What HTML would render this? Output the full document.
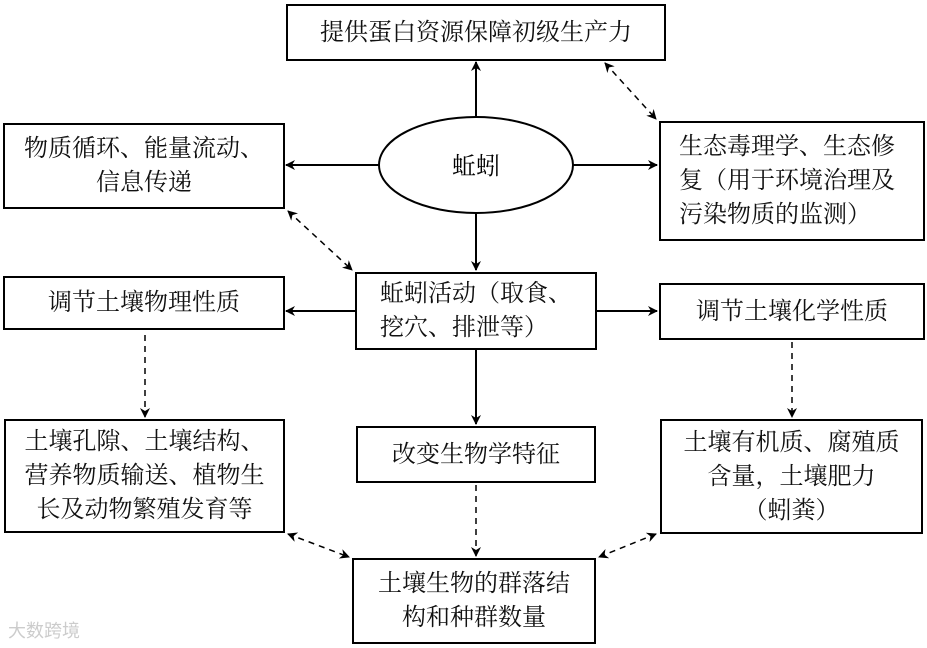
<!DOCTYPE html>
<html><head><meta charset="utf-8"><style>
body{margin:0;background:#fff;width:927px;height:648px;overflow:hidden;position:relative;font-family:"Liberation Serif","Noto Serif CJK SC",serif;}
.b{position:absolute;border:2px solid #000;box-sizing:border-box;display:flex;align-items:center;justify-content:center;text-align:center;font-size:24px;line-height:34px;color:#111;background:#fff;white-space:nowrap}
svg{position:absolute;left:0;top:0}
</style></head><body>
<svg width="927" height="648">
<defs><marker id="a" markerWidth="10" markerHeight="10" refX="9" refY="5" orient="auto" markerUnits="userSpaceOnUse"><path d="M0,0L10,5L0,10L3,5z" fill="#000"/></marker>
<marker id="s" markerWidth="10" markerHeight="10" refX="1" refY="5" orient="auto" markerUnits="userSpaceOnUse"><path d="M10,0L0,5L10,10L7,5z" fill="#000"/></marker></defs>
<g stroke="#000" stroke-width="2" fill="none">
<ellipse cx="476" cy="165" rx="97" ry="48"/>
<line x1="476" y1="117" x2="476" y2="62" marker-end="url(#a)"/>
<line x1="379" y1="165" x2="286" y2="165" marker-end="url(#a)"/>
<line x1="573" y1="165" x2="657" y2="165" marker-end="url(#a)"/>
<line x1="476" y1="213" x2="476" y2="270" marker-end="url(#a)"/>
<line x1="355" y1="311" x2="286" y2="311" marker-end="url(#a)"/>
<line x1="597" y1="311" x2="657" y2="311" marker-end="url(#a)"/>
<line x1="476" y1="350" x2="476" y2="424" marker-end="url(#a)"/>
<g stroke-dasharray="6,5" stroke-width="1.5">
<line x1="605" y1="63" x2="656" y2="119" marker-start="url(#s)" marker-end="url(#a)"/>
<line x1="288" y1="211" x2="352" y2="270" marker-start="url(#s)" marker-end="url(#a)"/>
<line x1="145" y1="335" x2="145" y2="417" marker-end="url(#a)"/>
<line x1="792" y1="342" x2="792" y2="417" marker-end="url(#a)"/>
<line x1="476" y1="485" x2="476" y2="556" marker-end="url(#a)"/>
<line x1="288" y1="534" x2="349" y2="557" marker-start="url(#s)" marker-end="url(#a)"/>
<line x1="656" y1="534" x2="599" y2="557" marker-start="url(#s)" marker-end="url(#a)"/>
</g></g>
<text x="476" y="174" text-anchor="middle" font-size="24" font-family="Liberation Serif,Noto Serif CJK SC,serif">蚯蚓</text>
</svg>
<div class="b" style="left:286px;top:4px;width:380px;height:57px">提供蛋白资源保障初级生产力</div>
<div class="b" style="left:3px;top:123px;width:282px;height:86px">物质循环、能量流动、<br>信息传递</div>
<div class="b" style="left:659px;top:121px;width:266px;height:120px;text-align:left;justify-content:flex-start;padding-left:18px">生态毒理学、生态修<br>复（用于环境治理及<br>污染物质的监测）</div>
<div class="b" style="left:355px;top:272px;width:242px;height:78px;text-align:left;justify-content:flex-start;padding-left:23px">蚯蚓活动（取食、<br>挖穴、排泄等）</div>
<div class="b" style="left:3px;top:276px;width:282px;height:54px">调节土壤物理性质</div>
<div class="b" style="left:659px;top:283px;width:266px;height:57px">调节土壤化学性质</div>
<div class="b" style="left:4px;top:419px;width:281px;height:114px">土壤孔隙、土壤结构、<br>营养物质输送、植物生<br>长及动物繁殖发育等</div>
<div class="b" style="left:356px;top:426px;width:240px;height:57px">改变生物学特征</div>
<div class="b" style="left:660px;top:419px;width:263px;height:115px">土壤有机质、腐殖质<br>含量，土壤肥力<br>（蚓粪）</div>
<div class="b" style="left:352px;top:558px;width:244px;height:86px">土壤生物的群落结<br>构和种群数量</div>
<div style="position:absolute;left:8px;top:617px;font-size:18px;color:#ccc;font-family:'Noto Sans CJK SC',sans-serif">大数跨境</div>
</body></html>
